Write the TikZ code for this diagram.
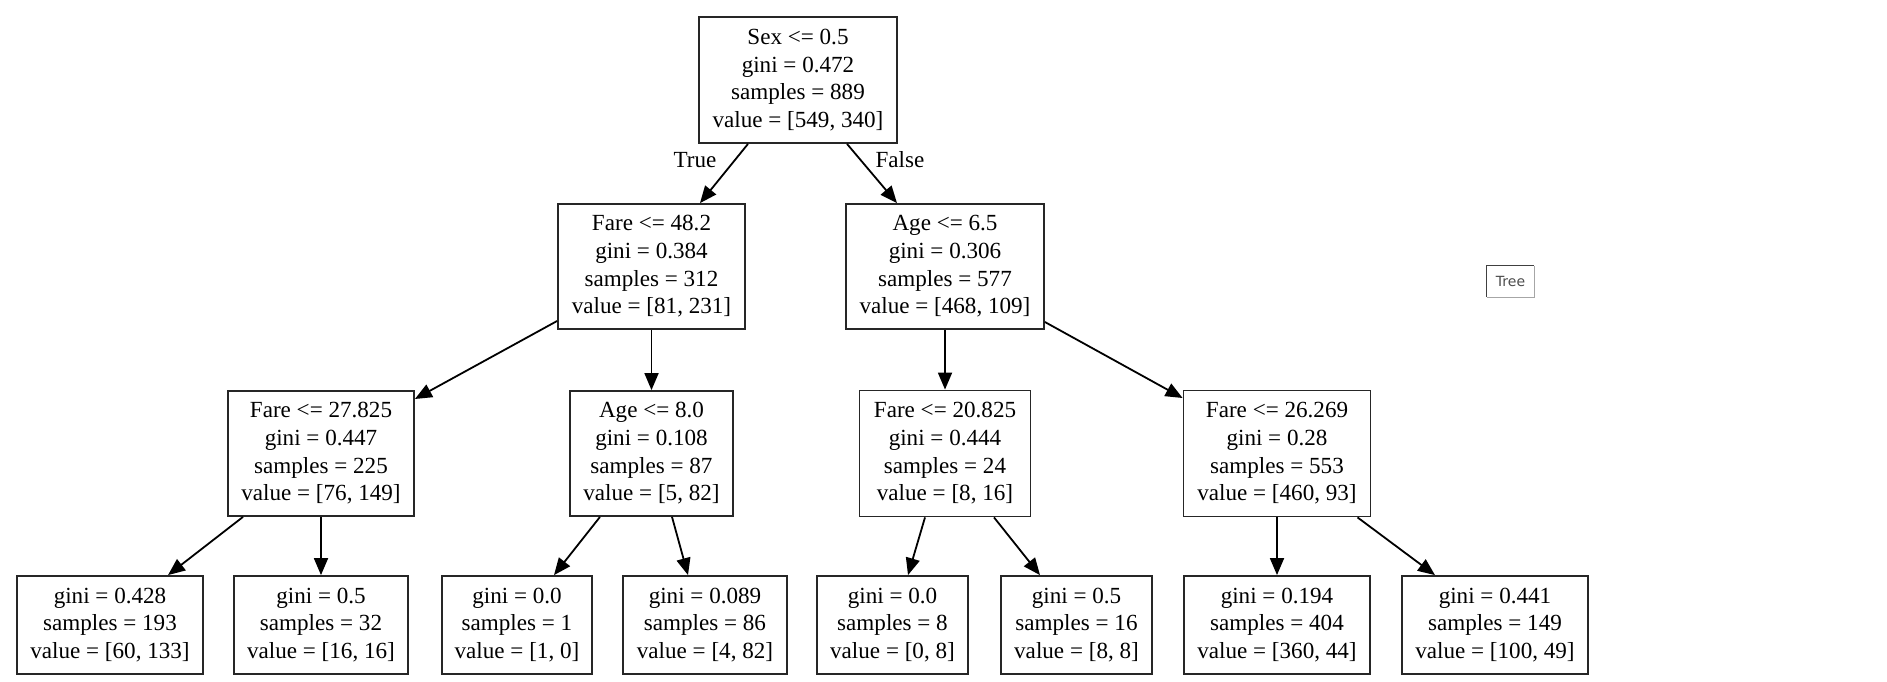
\documentclass[tikz,border=0pt]{standalone}
\usepackage{fontspec}
\setmainfont{Liberation Serif}
\newfontfamily\uifont{DejaVu Sans}
\usetikzlibrary{arrows.meta}
\begin{document}
\begin{tikzpicture}[x=1pt,y=-1pt,
  treebox/.style={draw=black!85, line width=1.8pt, rectangle, inner sep=0pt,
    align=center, font=\fontsize{23.1}{27.7}\selectfont},
  edge/.style={draw=black, line width=1.8pt, -{Triangle[length=17pt,width=14pt]}},
  branchlabel/.style={font=\fontsize{23.1}{27.7}\selectfont, inner sep=0pt}]
\useasboundingbox (0,0) rectangle (1887,682);

% root split
\node[treebox, minimum width=198pt, minimum height=126pt] (root) at (798,80)
  {Sex <= 0.5\\gini = 0.472\\samples = 889\\value = [549, 340]};

% depth 1
\node[treebox, minimum width=187pt, minimum height=125pt] (l1a) at (651.5,266.5)
  {Fare <= 48.2\\gini = 0.384\\samples = 312\\value = [81, 231]};
\node[treebox, minimum width=198pt, minimum height=125pt] (l1b) at (945,266.5)
  {Age <= 6.5\\gini = 0.306\\samples = 577\\value = [468, 109]};

% depth 2
\node[treebox, minimum width=186pt, minimum height=125pt] (l2a) at (321,453.5)
  {Fare <= 27.825\\gini = 0.447\\samples = 225\\value = [76, 149]};
\node[treebox, minimum width=163pt, minimum height=125pt] (l2b) at (651.5,453.5)
  {Age <= 8.0\\gini = 0.108\\samples = 87\\value = [5, 82]};
\node[treebox, minimum width=171pt, minimum height=126pt] (l2c) at (945,453.5)
  {Fare <= 20.825\\gini = 0.444\\samples = 24\\value = [8, 16]};
\node[treebox, minimum width=187pt, minimum height=126pt] (l2d) at (1277,453.5)
  {Fare <= 26.269\\gini = 0.28\\samples = 553\\value = [460, 93]};

% leaves
\node[treebox, minimum width=186pt, minimum height=98pt] (l3a) at (110,625)
  {gini = 0.428\\samples = 193\\value = [60, 133]};
\node[treebox, minimum width=174pt, minimum height=98pt] (l3b) at (321,625)
  {gini = 0.5\\samples = 32\\value = [16, 16]};
\node[treebox, minimum width=150pt, minimum height=98pt] (l3c) at (517,625)
  {gini = 0.0\\samples = 1\\value = [1, 0]};
\node[treebox, minimum width=164pt, minimum height=98pt] (l3d) at (705,625)
  {gini = 0.089\\samples = 86\\value = [4, 82]};
\node[treebox, minimum width=151pt, minimum height=98pt] (l3e) at (892.5,625)
  {gini = 0.0\\samples = 8\\value = [0, 8]};
\node[treebox, minimum width=151pt, minimum height=98pt] (l3f) at (1076.5,625)
  {gini = 0.5\\samples = 16\\value = [8, 8]};
\node[treebox, minimum width=186pt, minimum height=98pt] (l3g) at (1277,625)
  {gini = 0.194\\samples = 404\\value = [360, 44]};
\node[treebox, minimum width=186pt, minimum height=98pt] (l3h) at (1495,625)
  {gini = 0.441\\samples = 149\\value = [100, 49]};

% edges
\draw[edge] ([xshift=-50pt]root.south) -- ([xshift=48.5pt]l1a.north);
\draw[edge] ([xshift=49pt]root.south) -- ([xshift=-48pt]l1b.north);
\node[branchlabel] (truelbl) at (695,160) {True};
\node[branchlabel] (falselbl) at (900,160) {False};

\draw[edge] ([yshift=-54.5pt]l1a.west) -- ([yshift=54.5pt]l2a.east);
\draw[edge] (l1a.south) -- (l2b.north);
\draw[edge] (l1b.south) -- (l2c.north);
\draw[edge] ([yshift=-55.5pt]l1b.east) -- ([yshift=55.5pt]l2d.west);

\draw[edge] ([xshift=-78pt]l2a.south) -- ([xshift=58pt]l3a.north);
\draw[edge] (l2a.south) -- (l3b.north);
\draw[edge] ([xshift=-51.5pt]l2b.south) -- ([xshift=37pt]l3c.north);
\draw[edge] ([xshift=20.5pt]l2b.south) -- ([xshift=-17pt]l3d.north);
\draw[edge] ([xshift=-20pt]l2c.south) -- ([xshift=15.5pt]l3e.north);
\draw[edge] ([xshift=49pt]l2c.south) -- ([xshift=-36.5pt]l3f.north);
\draw[edge] (l2d.south) -- (l3g.north);
\draw[edge] ([xshift=80.5pt]l2d.south) -- ([xshift=-60pt]l3h.north);

% small "Tree" button
\node[inner sep=0pt, minimum width=47pt, minimum height=31pt,
  font=\uifont\fontsize{14}{16}\selectfont, text=black!70] (treebtn) at (1510.5,281.5) {Tree};
\draw[black!35, line width=1.2pt] (treebtn.north east) -- (treebtn.south east) -- (treebtn.south west);
\draw[black!75, line width=1.2pt] (treebtn.south west) -- (treebtn.north west) -- (treebtn.north east);
\end{tikzpicture}
\end{document}
